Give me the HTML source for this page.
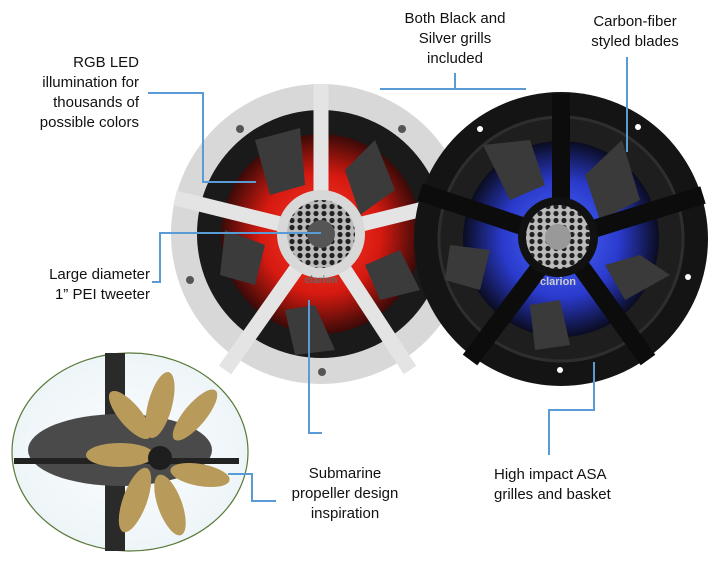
<!DOCTYPE html>
<html><head><meta charset="utf-8"><style>
html,body{margin:0;padding:0;background:#fff;}
body{width:721px;height:564px;overflow:hidden;position:relative;}
.t{position:absolute;font-family:"Liberation Sans Narrow","Liberation Sans",sans-serif;font-size:15px;line-height:20px;color:#111;white-space:nowrap;}
svg{position:absolute;left:0;top:0;}
</style></head><body>
<svg width="721" height="564" viewBox="0 0 721 564">
<defs>
<radialGradient id="red" cx="50%" cy="50%" r="50%"><stop offset="0" stop-color="#ff3a2a"/><stop offset="0.6" stop-color="#d61a10"/><stop offset="1" stop-color="#3a0a08"/></radialGradient>
<radialGradient id="blue" cx="50%" cy="50%" r="50%"><stop offset="0" stop-color="#4a6cff"/><stop offset="0.6" stop-color="#2a3acc"/><stop offset="1" stop-color="#0a0c20"/></radialGradient>
<radialGradient id="ov" cx="50%" cy="50%" r="50%"><stop offset="0" stop-color="#fbfdfe"/><stop offset="1" stop-color="#eef5f8"/></radialGradient>
<pattern id="hex" width="8" height="7" patternUnits="userSpaceOnUse"><rect width="8" height="7" fill="#bbb"/><circle cx="4" cy="3.5" r="2.6" fill="#222"/></pattern>
</defs>
<!-- silver speaker -->
<circle cx="321" cy="234" r="150" fill="#d8d8d8"/>
<circle cx="321" cy="234" r="124" fill="#1a1a1a"/>
<circle cx="321" cy="234" r="100" fill="url(#red)"/>
<g fill="#3b3b3b">
<polygon points="255,140 300,128 305,185 270,195"/>
<polygon points="375,140 395,190 360,215 345,170"/>
<polygon points="400,250 420,290 380,300 365,265"/>
<polygon points="315,305 335,350 295,355 285,310"/>
<polygon points="225,230 265,245 255,285 220,275"/>
</g>
<g stroke="#e4e4e4" stroke-width="15">
<line x1="321" y1="234" x2="321" y2="84"/>
<line x1="321" y1="234" x2="468" y2="198"/>
<line x1="321" y1="234" x2="410" y2="370"/>
<line x1="321" y1="234" x2="225" y2="370"/>
<line x1="321" y1="234" x2="175" y2="198"/>
</g>
<circle cx="321" cy="234" r="44" fill="#d8d8d8"/>
<circle cx="321" cy="234" r="34" fill="url(#hex)"/>
<circle cx="321" cy="234" r="14" fill="#555"/>
<text x="321" y="283" font-family="Liberation Sans" font-size="10" font-weight="bold" fill="#666" text-anchor="middle">clarion</text>
<g fill="#555"><circle cx="240" cy="129" r="4"/><circle cx="402" cy="129" r="4"/><circle cx="190" cy="280" r="4"/><circle cx="322" cy="372" r="4"/></g>
<!-- black speaker (in front) -->
<circle cx="561" cy="239" r="147" fill="#141414"/>
<circle cx="561" cy="239" r="122" fill="#1e1e1e" stroke="#2e2e2e" stroke-width="3"/>
<circle cx="561" cy="239" r="98" fill="url(#blue)"/>
<g fill="#3a3a3a">
<polygon points="483,145 530,140 545,185 510,200"/>
<polygon points="622,140 640,200 600,220 585,175"/>
<polygon points="640,255 670,275 625,300 605,265"/>
<polygon points="530,305 560,300 570,345 535,350"/>
<polygon points="450,245 490,250 480,290 445,280"/>
</g>
<g stroke="#0c0c0c" stroke-width="18">
<line x1="561" y1="239" x2="561" y2="94"/>
<line x1="561" y1="239" x2="703" y2="195"/>
<line x1="561" y1="239" x2="648" y2="360"/>
<line x1="561" y1="239" x2="470" y2="360"/>
<line x1="561" y1="239" x2="420" y2="192"/>
</g>
<circle cx="558" cy="237" r="40" fill="#111"/>
<circle cx="558" cy="237" r="32" fill="url(#hex)"/>
<circle cx="558" cy="237" r="13" fill="#999"/>
<text x="558" y="285" font-family="Liberation Sans" font-size="11" font-weight="bold" fill="#ccc" text-anchor="middle">clarion</text>
<g fill="#fff"><circle cx="480" cy="129" r="3"/><circle cx="638" cy="127" r="3"/><circle cx="688" cy="277" r="3"/><circle cx="560" cy="370" r="3"/></g>
<!-- propeller oval -->
<ellipse cx="130" cy="452" rx="118" ry="99" fill="url(#ov)" stroke="#5a7a3a" stroke-width="1.2"/>
<rect x="105" y="353" width="20" height="198" fill="#2a2a2a"/>
<ellipse cx="120" cy="450" rx="92" ry="36" fill="#4a4a4a"/>
<rect x="14" y="458" width="225" height="6" fill="#222"/>
<g fill="#b89a5a">
<ellipse cx="160" cy="405" rx="12" ry="34" transform="rotate(15 160 405)"/>
<ellipse cx="195" cy="415" rx="11" ry="32" transform="rotate(40 195 415)"/>
<ellipse cx="200" cy="475" rx="11" ry="30" transform="rotate(100 200 475)"/>
<ellipse cx="170" cy="505" rx="12" ry="32" transform="rotate(160 170 505)"/>
<ellipse cx="135" cy="500" rx="12" ry="34" transform="rotate(200 135 500)"/>
<ellipse cx="120" cy="455" rx="12" ry="34" transform="rotate(270 120 455)"/>
<ellipse cx="130" cy="415" rx="11" ry="30" transform="rotate(320 130 415)"/>
</g>
<circle cx="160" cy="458" r="12" fill="#1e1e1e"/>
<!-- connectors -->
<g stroke="#5b9bd5" stroke-width="2" fill="none">
<polyline points="148,93 203,93 203,182 256,182"/>
<polyline points="380,89 526,89"/>
<line x1="455" y1="73" x2="455" y2="89"/>
<line x1="627" y1="57" x2="627" y2="152"/>
<polyline points="321,233 160,233 160,282 152,282"/>
<polyline points="309,300 309,433 322,433"/>
<polyline points="594,362 594,410 549,410 549,455"/>
<polyline points="228,474 252,474 252,501 276,501"/>
</g>
</svg>
<div class="t" style="right:582px;top:53px;text-align:right;">RGB LED<br>illumination for<br>thousands of<br>possible colors</div>
<div class="t" style="left:385px;top:9px;width:140px;text-align:center;">Both Black and<br>Silver grills<br>included</div>
<div class="t" style="left:565px;top:12px;width:140px;text-align:center;">Carbon-fiber<br>styled blades</div>
<div class="t" style="right:571px;top:265px;text-align:right;">Large diameter<br>1” PEI tweeter</div>
<div class="t" style="left:275px;top:464px;width:140px;text-align:center;">Submarine<br>propeller design<br>inspiration</div>
<div class="t" style="left:494px;top:465px;">High impact ASA<br>grilles and basket</div>
</body></html>
